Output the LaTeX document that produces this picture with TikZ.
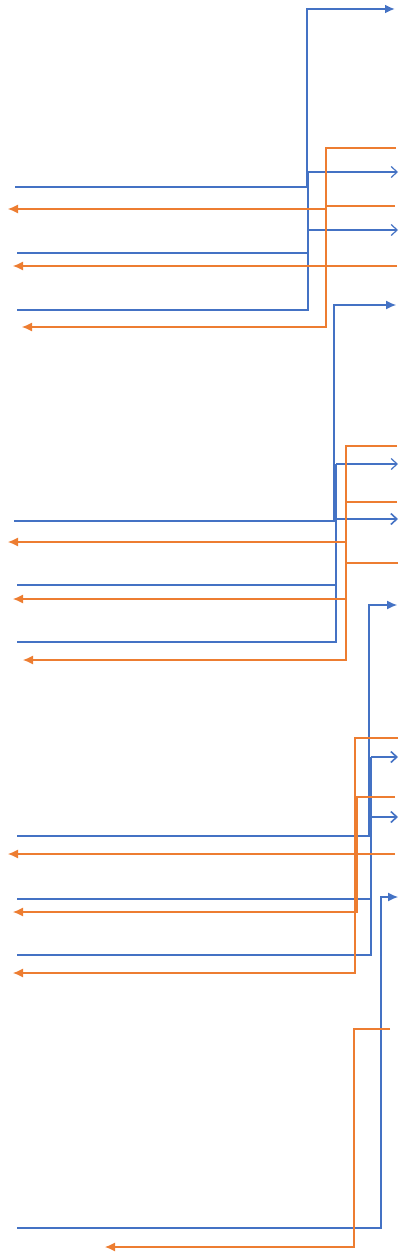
\documentclass[tikz,border=0pt]{standalone}
\usetikzlibrary{arrows.meta}
\definecolor{wblue}{HTML}{4472C4}
\definecolor{worange}{HTML}{ED7D31}
\tikzset{
  bl/.style={draw=wblue,line width=1.1pt},
  blthick/.style={draw=wblue,line width=2.1pt},
  og/.style={draw=worange,line width=1.1pt},
  fillarr/.style={-{Latex[length=10pt,width=9pt]}},
  openarr/.style={-{Straight Barb[length=6pt,width=11pt,line width=1.2pt]}},
  openarrthick/.style={-{Straight Barb[length=6pt,width=11pt,line width=1.6pt]}},
}
\begin{document}
\begin{tikzpicture}[x=1pt,y=-1pt]
\useasboundingbox (0,0) rectangle (410,1255);
% ---------- group 1 ----------
\coordinate (a1) at (15,187); \coordinate (a2) at (307,187); \coordinate (a3) at (307,9); \coordinate (a4) at (395,9);
\draw[blthick,fillarr] (a1) -- (a2) -- (a3) -- (a4);
\coordinate (b1) at (17,310); \coordinate (b2) at (308,310); \coordinate (b3) at (308,172); \coordinate (b4) at (398,172);
\coordinate (b5) at (17,253); \coordinate (b6) at (308,253); \coordinate (b7) at (308,230); \coordinate (b8) at (398,230);
\draw[bl,openarr] (b1) -- (b2) -- (b3) -- (b4);
\draw[bl] (b5) -- (b6);
\draw[bl,openarr] (b7) -- (b8);
\coordinate (c1) at (396,148); \coordinate (c2) at (326,148); \coordinate (c3) at (326,327); \coordinate (c4) at (22,327);
\coordinate (c5) at (395,206); \coordinate (c6) at (326,206); \coordinate (c7) at (326,209); \coordinate (c8) at (8,209);
\coordinate (c9) at (397,266); \coordinate (c10) at (13,266);
\draw[og,fillarr] (c1) -- (c2) -- (c3) -- (c4);
\draw[og,fillarr] (c5) -- (c6) -- (c7) -- (c8);
\draw[og,fillarr] (c9) -- (c10);
% ---------- group 2 ----------
\coordinate (d1) at (14,521); \coordinate (d2) at (334,521); \coordinate (d3) at (334,305); \coordinate (d4) at (396,305);
\draw[bl,fillarr] (d1) -- (d2) -- (d3) -- (d4);
\coordinate (e1) at (17,642); \coordinate (e2) at (336,642); \coordinate (e3) at (336,464); \coordinate (e4) at (398,464);
\coordinate (e5) at (17,585); \coordinate (e6) at (336,585); \coordinate (e7) at (336,519); \coordinate (e8) at (398,519);
\draw[blthick,line width=1.8pt] (e1) -- (e2) -- (e3);
\draw[bl,openarr] (e3) -- (e4);
\draw[bl] (e5) -- (e6);
\draw[blthick,line width=1.9pt,openarrthick] (e7) -- (e8);
\coordinate (f1) at (397,446); \coordinate (f2) at (346,446); \coordinate (f3) at (346,660); \coordinate (f4) at (23,660);
\coordinate (f5) at (397,502); \coordinate (f6) at (346,502); \coordinate (f7) at (346,542); \coordinate (f8) at (8,542);
\coordinate (f9) at (398,563); \coordinate (f10) at (346,563); \coordinate (f11) at (346,599); \coordinate (f12) at (13,599);
\draw[og,fillarr] (f1) -- (f2) -- (f3) -- (f4);
\draw[og] (f5) -- (f6);
\draw[og,fillarr] (f7) -- (f8);
\draw[og] (f9) -- (f10);
\draw[og,fillarr] (f11) -- (f12);
% ---------- group 3 ----------
\coordinate (g1) at (17,836); \coordinate (g2) at (369,836); \coordinate (g3) at (369,605); \coordinate (g4) at (397,605);
\draw[bl,fillarr] (g1) -- (g2) -- (g3) -- (g4);
\coordinate (h1) at (17,955); \coordinate (h2) at (371,955); \coordinate (h3) at (371,757); \coordinate (h4) at (398,757);
\coordinate (h5) at (17,899); \coordinate (h6) at (371,899); \coordinate (h7) at (371,817); \coordinate (h8) at (398,817);
\draw[blthick,line width=1.7pt] (h1) -- (h2) -- (h3);
\draw[blthick,line width=1.8pt,openarrthick] (h3) -- (h4);
\draw[blthick,line width=1.8pt] (h5) -- (h6);
\draw[blthick,line width=1.6pt,openarrthick] (h7) -- (h8);
\coordinate (i1) at (398,738); \coordinate (i2) at (355,738); \coordinate (i3) at (355,973); \coordinate (i4) at (13,973);
\draw[og,fillarr] (i1) -- (i2) -- (i3) -- (i4);
\coordinate (j1) at (395,797); \coordinate (j2) at (357,797); \coordinate (j3) at (357,912); \coordinate (j4) at (13,912);
\draw[og,fillarr] (j1) -- (j2) -- (j3) -- (j4);
\coordinate (k1) at (395,854); \coordinate (k2) at (8,854);
\draw[og,fillarr] (k1) -- (k2);
% ---------- group 4 ----------
\coordinate (l1) at (17,1228); \coordinate (l2) at (381,1228); \coordinate (l3) at (381,897); \coordinate (l4) at (398,897);
\draw[bl,fillarr] (l1) -- (l2) -- (l3) -- (l4);
\coordinate (m1) at (390,1029); \coordinate (m2) at (354,1029); \coordinate (m3) at (354,1247); \coordinate (m4) at (105,1247);
\draw[og,fillarr] (m1) -- (m2) -- (m3) -- (m4);
\end{tikzpicture}
\end{document}
